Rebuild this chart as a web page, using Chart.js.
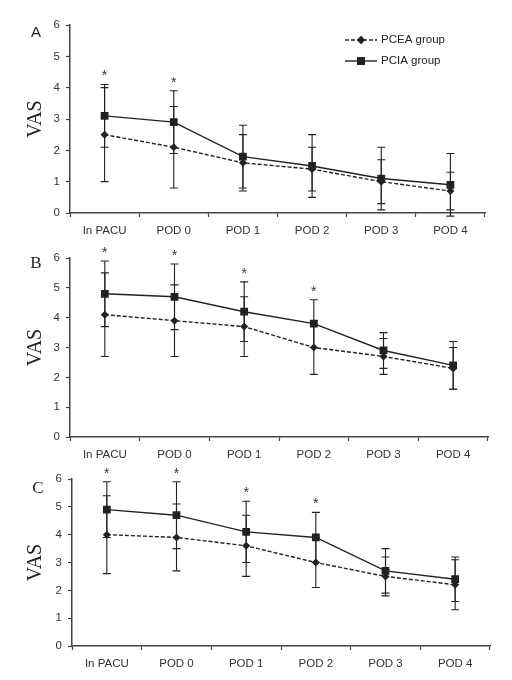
<!DOCTYPE html>
<html>
<head>
<meta charset="utf-8">
<script src="https://cdn.jsdelivr.net/npm/chart.js@4.4.1/dist/chart.umd.min.js"></script>
<style>
  body { margin: 0; background: #fff; }
  #wrap { position: relative; width: 512px; height: 680px; }
  canvas { position: absolute; left: 0; }
</style>
</head>
<body>
<div id="wrap">
  <canvas id="chartA" width="512" height="241" style="top:0px"></canvas>
  <canvas id="chartB" width="512" height="224" style="top:241px"></canvas>
  <canvas id="chartC" width="512" height="209" style="top:465px"></canvas>
</div>
<script>
const categories = ["In PACU", "POD 0", "POD 1", "POD 2", "POD 3", "POD 4"];
const yTicks = [0, 1, 2, 3, 4, 5, 6];

// panel A
const pceaA = [2.5, 2.1, 1.6, 1.4, 1.0, 0.7];
const pceaSdA = [1.5, 1.3, 0.9, 0.7, 0.7, 0.6];
const pciaA = [3.1, 2.9, 1.8, 1.5, 1.1, 0.9];
const pciaSdA = [1.0, 1.0, 1.0, 1.0, 1.0, 1.0];
const starsA = [1, 1, 0, 0, 0, 0];

// panel B
const pceaB = [4.1, 3.9, 3.7, 3.0, 2.7, 2.3];
const pceaSdB = [1.4, 1.2, 1.0, 0.9, 0.6, 0.7];
const pciaB = [4.8, 4.7, 4.2, 3.8, 2.9, 2.4];
const pciaSdB = [1.1, 1.1, 1.0, 0.8, 0.6, 0.8];
const starsB = [1, 1, 1, 1, 0, 0];

// panel C
const pceaC = [4.0, 3.9, 3.6, 3.0, 2.5, 2.2];
const pceaSdC = [1.4, 1.2, 1.1, 0.9, 0.7, 0.9];
const pciaC = [4.9, 4.7, 4.1, 3.9, 2.7, 2.4];
const pciaSdC = [1.0, 1.2, 1.1, 0.9, 0.8, 0.8];
const starsC = [1, 1, 1, 1, 0, 0];

const ink = "#222";
const sans = "'Liberation Sans', Arial, sans-serif";
const serif = "'Liberation Serif', 'Times New Roman', serif";

// error bars + asterisks, drawn under the markers
const errorBars = {
  id: "errorBars",
  beforeDatasetsDraw(chart, args, opts) {
    let ctx = chart.ctx;
    let x = chart.scales.x, y = chart.scales.y;
    let tops = [];
    ctx.save();
    ctx.strokeStyle = ink;
    ctx.lineWidth = 1.1;
    chart.data.datasets.forEach((ds) => {
      ds.data.forEach((v, i) => {
        let px = x.getPixelForValue(i);
        let hi = y.getPixelForValue(v + ds.sd[i]);
        let lo = y.getPixelForValue(v - ds.sd[i]);
        ctx.beginPath();
        ctx.moveTo(px, hi); ctx.lineTo(px, lo);
        ctx.moveTo(px - 4, hi); ctx.lineTo(px + 4, hi);
        ctx.moveTo(px - 4, lo); ctx.lineTo(px + 4, lo);
        ctx.stroke();
        tops[i] = tops[i] === undefined ? hi : Math.min(tops[i], hi);
      });
    });
    ctx.fillStyle = "#333";
    ctx.font = "14px " + sans;
    ctx.textAlign = "center";
    ctx.textBaseline = "middle";
    opts.stars.forEach((s, i) => {
      if (s) ctx.fillText("*", x.getPixelForValue(i), tops[i] - 8);
    });
    ctx.restore();
  },
  afterDraw(chart, args, opts) {
    let ctx = chart.ctx;
    let a = chart.chartArea;
    ctx.save();
    ctx.fillStyle = ink;
    ctx.font = opts.letterFont;
    ctx.textAlign = "center";
    ctx.textBaseline = "middle";
    ctx.fillText(opts.letter, a.left - 34, a.top + opts.letterDy);
    if (opts.legend) {
      let items = [
        { text: "PCEA group", dash: [4, 2], style: "rectRot", r: 4 },
        { text: "PCIA group", dash: [], style: "rect", r: 5.5 },
      ];
      let lx = a.left + 275;
      items.forEach((it, k) => {
        let ly = a.top + 15 + k * 21;
        ctx.strokeStyle = ink;
        ctx.lineWidth = 1.4;
        ctx.setLineDash(it.dash);
        ctx.beginPath();
        ctx.moveTo(lx, ly); ctx.lineTo(lx + 32, ly);
        ctx.stroke();
        ctx.setLineDash([]);
        Chart.helpers.drawPoint(ctx, { pointStyle: it.style, radius: it.r, borderWidth: 0 }, lx + 16, ly);
        ctx.fill();
        ctx.fillStyle = ink;
        ctx.font = "11.5px " + sans;
        ctx.textAlign = "left";
        ctx.fillText(it.text, lx + 36, ly);
      });
    }
    ctx.restore();
  },
};

function makePanel(id, pcea, pceaSd, pcia, pciaSd, stars, cfg) {
  return new Chart(document.getElementById(id), {
    type: "line",
    data: {
      labels: categories,
      datasets: [
        {
          label: "PCEA group",
          data: pcea,
          sd: pceaSd,
          borderColor: ink,
          backgroundColor: ink,
          borderWidth: 1.4,
          borderDash: [4, 2],
          pointStyle: "rectRot",
          pointRadius: 4,
          pointBorderWidth: 0,
          tension: 0,
        },
        {
          label: "PCIA group",
          data: pcia,
          sd: pciaSd,
          borderColor: ink,
          backgroundColor: ink,
          borderWidth: 1.4,
          pointStyle: "rect",
          pointRadius: 5.5,
          pointBorderWidth: 0,
          tension: 0,
        },
      ],
    },
    options: {
      responsive: false,
      animation: false,
      layout: { padding: { top: cfg.top, right: cfg.right, bottom: 0, left: 0 } },
      plugins: {
        legend: { display: false },
        tooltip: { enabled: false },
        errorBars: { stars: stars, letter: cfg.letter, letterFont: cfg.letterFont, letterDy: cfg.letterDy, legend: cfg.legend },
      },
      scales: {
        x: {
          offset: true,
          afterFit: (s) => { s.height = 28; },
          grid: { offset: true, drawOnChartArea: false, drawTicks: true, tickLength: 4, color: "#444", tickWidth: 1.2 },
          border: { color: "#444", width: 1.5 },
          ticks: { color: "#333", font: { family: sans, size: 11.5 }, padding: 7 },
        },
        y: {
          min: 0,
          max: 6,
          afterFit: (s) => { s.width = cfg.left; },
          afterBuildTicks: (s) => { s.ticks = yTicks.map((v) => ({ value: v })); },
          grid: { drawOnChartArea: false, drawTicks: true, tickLength: 4, color: "#444", tickWidth: 1.2 },
          border: { color: "#444", width: 1.5 },
          ticks: { color: "#333", font: { family: sans, size: 11.5 }, padding: 6 },
          title: { display: true, text: "VAS", color: ink, font: { family: serif, size: 20 }, padding: { top: 24, bottom: 0 } },
        },
      },
    },
    plugins: [errorBars],
  });
}

makePanel("chartA", pceaA, pceaSdA, pciaA, pciaSdA, starsA,
  { top: 25, right: 27, left: 70, letter: "A", letterFont: "15px " + sans, letterDy: 8, legend: true });
makePanel("chartB", pceaB, pceaSdB, pciaB, pciaSdB, starsB,
  { top: 17, right: 24, left: 70, letter: "B", letterFont: "17px " + serif, letterDy: 6, legend: false });
makePanel("chartC", pceaC, pceaSdC, pciaC, pciaSdC, starsC,
  { top: 14, right: 22, left: 72, letter: "C", letterFont: "17px " + serif, letterDy: 10, legend: false });
</script>
</body>
</html>
